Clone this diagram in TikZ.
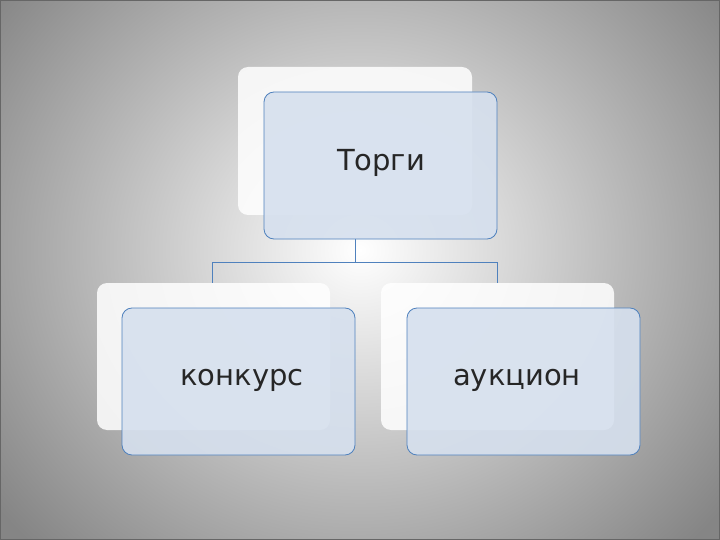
\documentclass[tikz,border=0pt]{standalone}
\usepackage{fontspec}
\setmainfont{DejaVu Sans}
\definecolor{bord}{HTML}{4F81BD}
\definecolor{fillb}{HTML}{D6E0EE}
\definecolor{bgout}{HTML}{858585}
\begin{document}
\begin{tikzpicture}[x=1pt,y=-1pt,
  backbox/.style={fill=white,fill opacity=0.85,rounded corners=10pt},
  frontbox/.style={draw=bord,fill=fillb,fill opacity=0.9,rounded corners=10pt,line width=0.8pt,inner sep=0pt,minimum width=233pt,minimum height=147pt},
  lbl/.style={font=\fontsize{29}{34}\selectfont,text=black!85},
  conn/.style={draw=bord,line width=0.8pt}]
\useasboundingbox (0,0) rectangle (720,540);
\shade[inner color=white,outer color=bgout] (-100,-170) rectangle (820,670);
\draw[black!60,line width=1pt] (0.5,0.5) rectangle (719.5,539.5);
\draw[conn] (355,239) -- (355,262) -- (212,262) -- (212,283);
\draw[conn] (355,262) -- (497,262) -- (497,283);
\fill[backbox] (238,67) rectangle (472,215);
\fill[backbox] (97,283) rectangle (330,430);
\fill[backbox] (381,283) rectangle (614,430);
\node[frontbox] (t) at (380.5,165.5) {};
\node[frontbox] (k) at (238.5,381.5) {};
\node[frontbox] (a) at (523.5,381.5) {};
\node[lbl] at (381,163) {Торги};
\node[lbl] at (242,380) {конкурс};
\node[lbl] at (517,380) {аукцион};
\end{tikzpicture}
\end{document}
